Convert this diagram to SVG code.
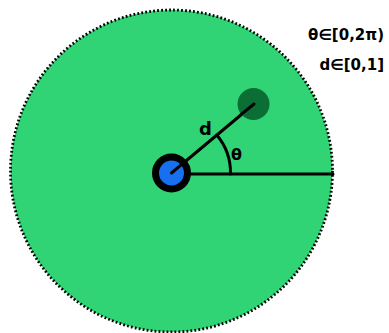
<svg xmlns="http://www.w3.org/2000/svg" width="389" height="333" viewBox="0 0 389 333">
<style>
text{font-family:"DejaVu Sans","Liberation Sans",sans-serif;font-weight:bold;fill:#000}
.ln{stroke:#000;stroke-width:3;fill:none;stroke-linecap:round}
.r{text-anchor:end;font-size:15px}
</style>
<rect width="389" height="333" fill="#fff"/>
<g id="field">
<circle cx="171.5" cy="171" r="161" fill="#31d474" stroke="#000" stroke-width="2.8" stroke-dasharray="1.8 2.2"/>
</g>
<g id="connectors">
<line class="ln" x1="171.5" y1="173" x2="254" y2="104"/>
<line class="ln" x1="190" y1="174" x2="333" y2="174"/>
<path class="ln" d="M230.5 174 A59 59 0 0 0 216.8 135"/>
</g>
<g id="target">
<circle cx="253.5" cy="104" r="16" fill="#0b6e34"/>
<line class="ln" x1="240" y1="115.3" x2="254" y2="104"/>
</g>
<g id="agent">
<circle cx="171.5" cy="173" r="16" fill="#1670f0" stroke="#000" stroke-width="7"/>
<line class="ln" x1="171.5" y1="173" x2="182" y2="164.2"/>
</g>
<g id="labels">
<text x="199" y="135" font-size="18">d</text>
<text x="231" y="160" font-size="16">θ</text>
<text class="r" x="384" y="40">θ∈[0,2π)</text>
<text class="r" x="384" y="70">d∈[0,1]</text>
</g>
</svg>
